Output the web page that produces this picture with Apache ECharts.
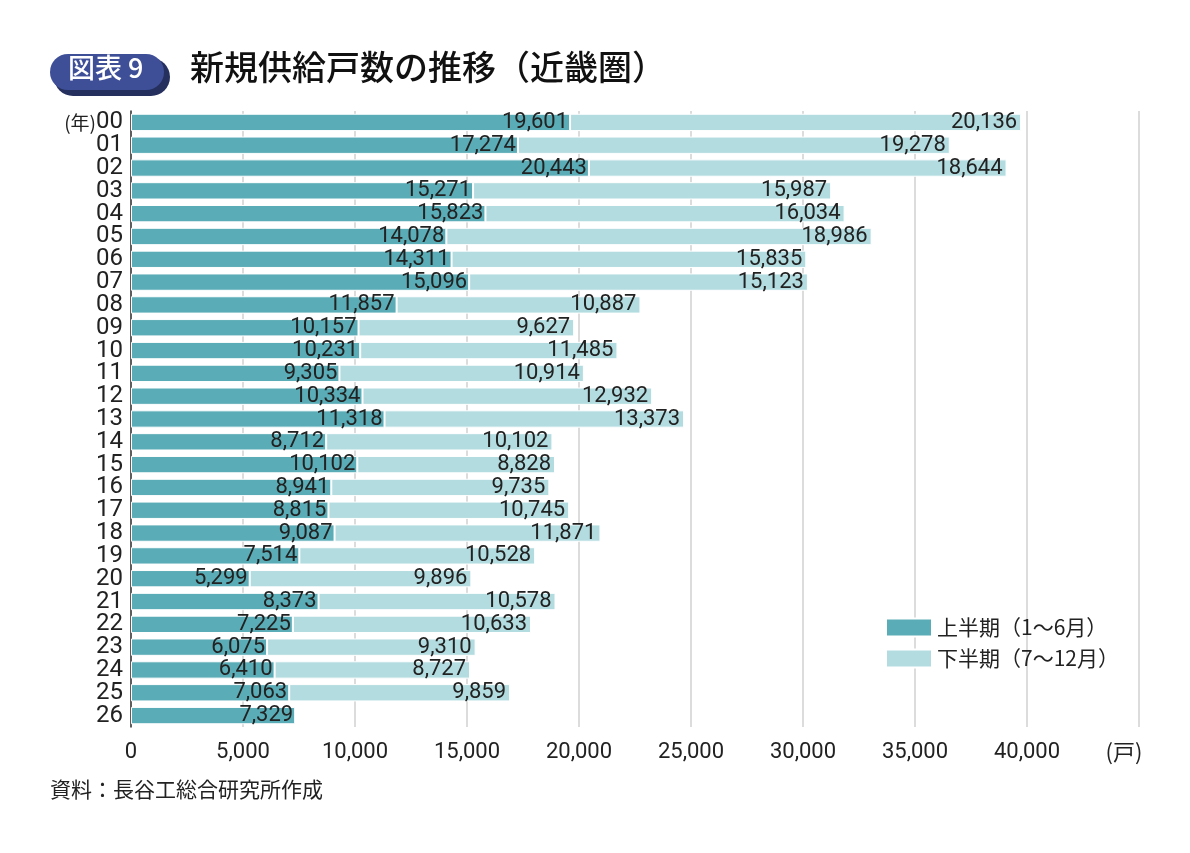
<!DOCTYPE html>
<html>
<head>
<meta charset="utf-8">
<style>
  html, body { margin: 0; padding: 0; background: #fff; }
  #main { width: 1190px; height: 853px; }
</style>
<script src="https://cdn.jsdelivr.net/npm/echarts@6/dist/echarts.min.js"></script>
</head>
<body>
<div id="main"></div>
<script>
// 年（00〜26）
var years = ['00','01','02','03','04','05','06','07','08','09','10','11','12','13',
             '14','15','16','17','18','19','20','21','22','23','24','25','26'];
// 上半期（1〜6月）
var firstHalf = [19601,17274,20443,15271,15823,14078,14311,15096,11857,10157,10231,9305,10334,11318,
                 8712,10102,8941,8815,9087,7514,5299,8373,7225,6075,6410,7063,7329];
// 下半期（7〜12月）
var secondHalf = [20136,19278,18644,15987,16034,18986,15835,15123,10887,9627,11485,10914,12932,13373,
                  10102,8828,9735,10745,11871,10528,9896,10578,10633,9310,8727,9859,null];

var numFont = '"Roboto", sans-serif';
var jpFont = '"Noto Sans CJK JP", sans-serif';

function fmt(v) {
  return v.toString().replace(/\B(?=(\d{3})+(?!\d))/g, ',');
}

var myChart = echarts.init(document.getElementById('main'));
var option = {
  animation: false,
  grid: { left: 131, right: 51, top: 111, bottom: 126 },
  legend: {
    orient: 'vertical',
    left: 880,
    top: 612,
    itemWidth: 46,
    itemHeight: 18,
    itemGap: 10,
    icon: 'rect',
    textStyle: { fontFamily: jpFont, fontSize: 21, color: '#222' },
    data: ['上半期（1～6月）', '下半期（7～12月）']
  },
  xAxis: {
    type: 'value',
    min: 0,
    max: 45000,
    interval: 5000,
    axisLine: { show: false },
    axisTick: { show: false },
    splitLine: { lineStyle: { color: '#d0d0d0', width: 1.5 } },
    axisLabel: {
      margin: 14,
      fontFamily: numFont,
      fontSize: 22,
      color: '#222',
      formatter: function (v) { return v === 45000 ? '{u|(戸)}' : fmt(v); },
      rich: { u: { fontFamily: jpFont, fontSize: 22, color: '#222', padding: [0, 30, 0, 0] } }
    }
  },
  yAxis: {
    type: 'category',
    inverse: true,
    data: years,
    axisLine: { lineStyle: { color: '#333', width: 1.5 } },
    axisTick: { show: false },
    axisLabel: {
      interval: 0,
      margin: 8,
      fontFamily: numFont,
      fontSize: 24,
      color: '#222',
      formatter: function (v, i) { return i === 0 ? '{n|(年)}' + v : v; },
      rich: { n: { fontFamily: jpFont, fontSize: 19, color: '#222' } }
    }
  },
  series: [
    {
      name: '上半期（1～6月）',
      type: 'bar',
      stack: 'total',
      barWidth: '76%',
      data: firstHalf,
      itemStyle: { color: '#5aacb6', borderColor: '#fff', borderWidth: 1 },
      label: {
        show: true,
        position: 'insideRight',
        distance: 2,
        fontFamily: numFont,
        fontSize: 22,
        color: '#222',
        formatter: function (p) { return fmt(p.value); }
      }
    },
    {
      name: '下半期（7～12月）',
      type: 'bar',
      stack: 'total',
      barWidth: '76%',
      data: secondHalf,
      itemStyle: { color: '#b3dce0', borderColor: '#fff', borderWidth: 1 },
      label: {
        show: true,
        position: 'insideRight',
        distance: 4,
        fontFamily: numFont,
        fontSize: 22,
        color: '#222',
        formatter: function (p) { return p.value == null ? '' : fmt(p.value); }
      }
    }
  ],
  graphic: [
    { type: 'rect', shape: { x: 54, y: 58, width: 116, height: 38, r: 19 }, style: { fill: '#26305e' } },
    { type: 'rect', shape: { x: 50, y: 54, width: 114, height: 36, r: 18 }, style: { fill: '#3e4f98' } },
    { type: 'text', left: 68, top: 54, style: { text: '図表 9', fill: '#fff', font: '500 27px "Noto Sans CJK JP", sans-serif' } },
    { type: 'text', left: 190, top: 50, style: { text: '新規供給戸数の推移（近畿圏）', fill: '#111', font: '500 34px "Noto Sans CJK JP", sans-serif' } },
    { type: 'text', left: 50, top: 779, style: { text: '資料：長谷工総合研究所作成', fill: '#222', font: '21px "Noto Sans CJK JP", sans-serif' } }
  ]
};
myChart.setOption(option);
</script>
</body>
</html>
